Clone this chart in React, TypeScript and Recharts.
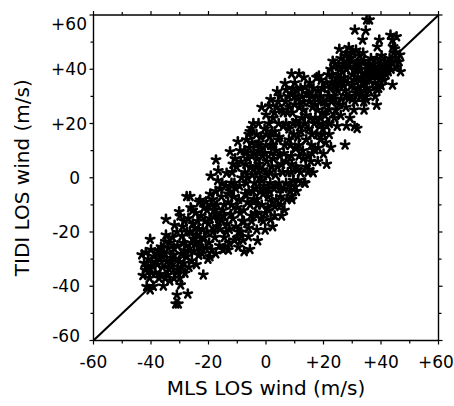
import { Scatter, ScatterChart, XAxis, YAxis } from "recharts";

// MLS vs TIDI line-of-sight wind (m/s) as [mls, tidi]
const tailSW: [number, number][] = [
  [-43.2, -28.4], [-42.4, -31.5], [-42, -34], [-41.5, -40.1], [-40.3, -41.3], [-40.5, -37],
  [-40.3, -22.7], [-41, -30], [-39.5, -32.5], [-39, -29], [-38.5, -35], [-40, -26.5],
  [-38.2, -31], [-42.8, -36], [-39.2, -40], [-41.8, -27.5],
  [-37.5, -27], [-37, -30], [-36.5, -25.5], [-36, -33], [-35.7, -39.9], [-35.1, -37],
  [-34.8, -15.3], [-34.8, -21.1], [-35.5, -28], [-34.5, -31], [-34, -26], [-33.5, -24],
  [-33.2, -29.5], [-36.8, -35.5], [-35, -23.5], [-33.8, -33.5], [-37.8, -32], [-34.2, -35.8],
  [-31.4, -46.5], [-30.5, -46.5], [-31, -43.2], [-29.7, -39.5], [-30.2, -12.5], [-29.9, -14.1],
  [-32.5, -22], [-32, -26], [-31.5, -30], [-31, -20], [-30.5, -34], [-30, -37],
  [-29.5, -28], [-29, -18], [-28.8, -24], [-28.5, -31.5], [-28.2, -35.2], [-32.8, -33],
  [-30.8, -25], [-29.2, -21.5], [-31.8, -17.5], [-28.4, -16], [-30, -31], [-32.2, -28.5],
  [-28.5, -27], [-29.5, -33], [-31, -35], [-32, -37], [-33, -31], [-36, -29],
  [-38, -28], [-39.8, -35], [-41.2, -33], [-37.2, -37], [-33.5, -38],
];

const lowerBand: [number, number][] = [
  [-27.6, -6.9], [-26.4, -6.9], [-27.2, -42.8], [-27, -15], [-26.5, -20], [-26, -24],
  [-25.5, -17], [-25, -27], [-24.5, -13], [-24, -21], [-23.5, -25.5], [-23.2, -9],
  [-27.5, -29], [-26.8, -33], [-25.8, -30.5], [-24.8, -18.5], [-23.8, -16], [-27.8, -25],
  [-26.2, -11], [-25.2, -22.5], [-23.4, -28.5], [-24.2, -32],
  [-22.9, -8.2], [-20.9, -8.8], [-21.8, -35.8], [-19.5, -29.1], [-19.2, 0.7], [-22.5, -14],
  [-22, -19], [-21.5, -22], [-21, -26], [-20.5, -12], [-20, -17], [-19.8, -24],
  [-19, -10], [-18.5, -20], [-18.2, -14.5], [-22.2, -28], [-20.2, -30], [-21.2, -16],
  [-19.4, -6], [-18.8, -26.5], [-22.8, -23.5], [-18.4, -8],
  [-17.4, 6.6], [-16.6, 2.6], [-13.7, 1.7], [-14.2, -26], [-13.1, -26.6], [-17.5, -5],
  [-17, -10], [-16.5, -15], [-16, -19], [-15.5, -7], [-15, -12], [-14.5, -22],
  [-14, -3], [-13.5, -17], [-13.2, -9], [-17.8, -22], [-16.2, -25], [-15.2, -2],
  [-14.8, -14], [-13.8, -20], [-17.2, -13], [-16.8, -1],
  [-13, -6], [-14.5, -10], [-15.5, -16], [-16, -4], [-17, -18], [-18, -12],
  [-19.5, -15], [-20.5, -20], [-21.5, -11], [-22.5, -26], [-23.5, -19], [-24.5, -24],
  [-25.5, -12], [-26.5, -27], [-27.5, -20], [-15, -26.5], [-17.5, -28],
];

const core: [number, number][] = [
  [-12.5, 9.6], [-9.8, 13.3], [-10, -22.3], [-9.6, -25.6], [-12.5, -5], [-12, -10],
  [-11.5, -15], [-11, -2], [-10.5, -18], [-10.2, 4], [-9.5, -8], [-9, -13],
  [-8.5, 0], [-8.2, -16], [-12.8, -19], [-11.8, 2], [-11.2, -7], [-10.8, 7],
  [-9.2, -3], [-8.6, -20], [-12.2, -13.5], [-8.8, 6], [-10, -11],
  [-7.6, -27.2], [-5.6, -26.4], [-6.1, -18.6], [-6.1, -21.7], [-5, 18.2], [-5.6, 17],
  [-7.5, 10], [-7, 5], [-6.5, 0], [-6, -5], [-5.5, -10], [-5, 8],
  [-4.5, 3], [-4, -2], [-3.5, 12], [-3.2, -8], [-7.8, -12], [-7.2, -6],
  [-6.8, 14], [-6.2, 7], [-5.2, -14], [-4.8, 1], [-4.2, 9], [-3.8, -13],
  [-3.4, 4], [-7.4, 2], [-6.4, -9], [-5.8, 11], [-4.6, -5], [-3.3, 16],
  [-3.2, -19.2], [-2.9, -23.2], [-3.2, -13.7], [-7.7, -16], [-4.4, 20],
  [-1.5, 26], [0, 23.2], [1.2, 26.5], [1.6, 28.9], [-0.3, -19.2], [1.6, -15.5],
  [2.3, -18], [-2.8, 10], [-2.5, 5], [-2.2, 0], [-2, -5], [-1.8, 15],
  [-1.5, -10], [-1.2, 8], [-1, 3], [-0.8, -3], [-0.5, 18], [-0.2, -13],
  [0, 12], [0.3, 6], [0.5, 1], [0.8, -7], [1, 20], [1.3, 15],
  [1.5, -2], [1.8, 9], [2, 4], [-2.6, 20], [-1.6, -15], [0.6, -11],
  [-2.4, 13], [1.2, -5],
  [-6.8, -2], [-5.4, 4], [-4.2, -8], [-3, 7], [-2, 11], [-1, -6],
  [0.2, 16], [1.4, 2], [2.2, -9], [-7.2, 9], [-6, 16], [-4.8, 13],
  [-3.6, -4], [-2.6, 2], [-1.4, -1], [-0.4, 9], [0.6, -4], [1.6, 12],
  [-9, 10], [-10.5, -4], [-11.5, 5], [-12, -2], [-5, -16], [-3, -10],
  [-1, -16], [1, -12], [-9.5, -20], [-11, -23], [-12.8, -24], [-8, -23],
];

const upperBand: [number, number][] = [
  [3.9, 31.8], [6.6, 34.8], [7, 32.4], [5.4, -14.1], [3.1, -10.6], [2.5, 22],
  [3, 17], [3.5, 10], [4, 4], [4.5, -2], [5, -7], [5.5, 25],
  [6, 19], [6.5, 12], [7, 6], [2.8, -4], [3.3, 1], [3.8, 26],
  [4.2, 14], [4.8, 8], [5.2, -10], [5.8, 2], [6.2, -4], [6.8, 28],
  [2.4, 12], [6.4, -12], [4.4, 20], [3.6, -8],
  [8.9, 38.3], [11.5, 38.3], [9.5, 33], [9.8, 29.9], [8.9, -6.9], [10.1, -3.3],
  [7.5, 24], [8, 18], [8.5, 12], [9, 5], [9.5, -1], [10, 27],
  [10.5, 21], [11, 15], [11.5, 8], [12, 2], [7.8, 30], [8.2, -3],
  [8.8, 8], [9.2, 24], [10.2, 11], [10.8, 32], [11.2, -1], [11.8, 19],
  [7.6, 2], [9.6, 16], [10.4, 4], [11.6, 26], [8.4, -5],
  [13.2, 37], [13.6, 33.4], [13.6, -2], [13.3, -1.8], [16.4, 1.9], [17, 10.3],
  [12.5, 30], [13, 25], [13.5, 20], [14, 14], [14.5, 8], [15, 28],
  [15.5, 22], [16, 16], [16.5, 33], [12.8, 10], [13.8, 4], [14.2, 31],
  [14.8, 18], [15.2, 35], [15.8, 12], [16.2, 26], [16.8, 20], [12.2, 17],
  [14.6, 2], [15.6, 6],
  [17.6, 37], [18.4, 37.5], [20, 8.8], [21.1, 5], [22.6, 11.2], [21.1, 19.1],
  [17.5, 30], [18, 25], [18.5, 20], [19, 14], [19.5, 33], [20, 28],
  [20.5, 23], [21, 35], [21.5, 30], [22, 25], [17.8, 16], [18.8, 28],
  [19.2, 36], [19.8, 18], [20.8, 13], [21.6, 38], [22, 20], [17.2, 22],
  [18.2, 11], [19.6, 24],
  [2, 17], [3, 24], [4.2, 28], [5, 30], [6, 24], [7, 20],
  [8.2, 26], [9, 31], [10, 35], [11, 29], [12, 33], [13, 28],
  [14, 23], [15, 31], [16, 30], [17, 27], [18, 32], [19, 30],
  [20, 33], [21, 27], [22, 30], [2.6, 7], [3.4, -3], [4.6, 15],
  [5.4, 5], [6.2, 9], [7.2, -8], [8, 14], [8.8, 2], [9.4, 20],
  [10.6, -5], [11.4, 12], [12.4, 22], [3, -14], [5, -4], [7, -2],
  [9, -8], [11, 3], [13, 7], [15, 3], [16, 9], [18, 6],
  [19, 22], [20, 16], [22, 16],
];

const tailNE: [number, number][] = [
  [25.5, 47.4], [27.5, 12.1], [22.5, 40], [23, 35], [23.5, 30], [24, 42],
  [24.5, 37], [25, 32], [25.5, 27], [26, 44], [26.5, 39], [27, 34],
  [22.8, 28], [23.8, 22], [24.8, 19], [25.8, 35], [26.2, 29], [22.2, 33],
  [26.8, 41], [24.2, 25], [23.2, 43], [27.2, 37], [25.2, 41], [24.6, 33],
  [30.8, 18.9], [31.7, 18.2], [28, 19.1], [30.9, 54.5], [31.3, 47.1], [27.5, 45],
  [28, 40], [28.5, 35], [29, 30], [29.5, 44], [30, 38], [30.5, 33],
  [31, 28], [31.5, 42], [32, 37], [27.8, 26], [28.8, 48], [29.2, 22],
  [30.2, 46], [30.6, 25], [31.2, 40], [28.2, 43], [29.8, 34], [31.8, 31], [27.4, 32],
  [35, 58.2], [36, 58.2], [34.7, 54.2], [33.6, 50.8], [34.1, 25], [34.7, 29.9],
  [35, 28.7], [32.5, 45], [33, 40], [33.5, 35], [34, 43], [34.5, 38],
  [35, 33], [35.5, 41], [36, 36], [36.5, 44], [32.8, 30], [33.8, 46],
  [34.2, 32], [35.2, 38], [36.2, 40], [32.2, 42], [33.2, 37], [36.8, 38],
  [39.4, 50.8], [38.7, 48.3], [38.5, 32.6], [38.5, 26.8], [42.5, 39.1], [40.8, 37.3],
  [37.5, 42], [38, 38], [38.5, 44], [39, 40], [39.5, 36], [40, 42],
  [40.5, 39], [41, 41], [41.5, 43], [37.8, 35], [39.2, 33], [40.2, 45], [41.8, 38],
  [43.3, 52.6], [45.4, 52], [44, 50.8], [44.2, 48.3], [46.6, 45.3], [46.3, 42.8],
  [46.8, 39.1], [44, 34.2], [42.5, 42], [43, 44], [43.5, 40], [44.5, 46],
  [45, 43], [45.5, 41], [44.8, 47.5], [43.8, 42.5],
  [23, 38], [24, 34], [25, 38], [26, 36], [27, 42], [28, 46],
  [29, 41], [30, 43], [31, 36], [32, 40], [33, 43], [34, 35],
  [35, 36], [36, 42], [37, 40], [38, 41], [39, 38], [40, 40],
  [41, 36], [42, 40], [24, 29], [26, 23], [28, 30], [30, 29],
  [32, 33], [34, 28], [36, 32], [38, 30], [40, 34],
];

const diagonal = [-60, 60];
const axisTicks = [-60, -50, -40, -30, -20, -10, 0, 10, 20, 30, 40, 50, 60];

const points = [...tailSW, ...lowerBand, ...core, ...upperBand, ...tailNE].map(
  ([x, y]) => ({ x, y })
);
const lineData = diagonal.map((v) => ({ x: v, y: v }));

const FONT = "DejaVu Sans";
const fmt = (v: number) => (v > 0 ? `+${v}` : `${v}`);
const isMajor = (v: number) => v % 20 === 0;

const Asterisk = (props: any) => {
  const { cx, cy } = props;
  if (cx == null || cy == null) return <g />;
  const r = 4.4;
  const arms = [0, 1, 2, 3, 4].map((k) => {
    const a = ((-90 + k * 72) * Math.PI) / 180;
    return (
      <line
        key={k}
        x1={cx}
        y1={cy}
        x2={cx + r * Math.cos(a)}
        y2={cy + r * Math.sin(a)}
        stroke="#000"
        strokeWidth={2.6}
        strokeLinecap="round"
      />
    );
  });
  return <g>{arms}</g>;
};

const BottomTick = (props: any) => {
  const { x, y, payload } = props;
  const v = payload.value;
  const shift = v === 60 ? -2.5 : 0;
  return (
    <g>
      <line x1={x} y1={y} x2={x} y2={y + (isMajor(v) ? 4 : 3)} stroke="#000" strokeWidth={1.2} />
      {isMajor(v) && (
        <text x={x + shift} y={y + 27} textAnchor="middle" fontFamily={FONT} fontSize={17} fill="#000">
          {fmt(v)}
        </text>
      )}
    </g>
  );
};

const LeftTick = (props: any) => {
  const { x, y, payload } = props;
  const v = payload.value;
  let dy = 6;
  if (v === 60) dy += 8.5;
  if (v === -60) dy -= 4.5;
  return (
    <g>
      <line x1={x - (isMajor(v) ? 4 : 3)} y1={y} x2={x} y2={y} stroke="#000" strokeWidth={1.2} />
      {isMajor(v) && (
        <text
          x={v > 0 ? x - 6.5 : x - 13.5}
          y={y + dy}
          textAnchor="end"
          fontFamily={FONT}
          fontSize={17}
          fill="#000"
        >
          {fmt(v)}
        </text>
      )}
    </g>
  );
};

const TopTick = (props: any) => {
  const { x, y, payload } = props;
  return (
    <line x1={x} y1={y} x2={x} y2={y - (isMajor(payload.value) ? 4 : 3)} stroke="#000" strokeWidth={1.2} />
  );
};

const RightTick = (props: any) => {
  const { x, y, payload } = props;
  return (
    <line x1={x} y1={y} x2={x + (isMajor(payload.value) ? 4 : 3)} y2={y} stroke="#000" strokeWidth={1.2} />
  );
};

const axisLine = { stroke: "#000", strokeWidth: 1.4 };

export default function App() {
  return (
    <div style={{ position: "absolute", left: 0, top: 0, background: "#fff" }}>
      <ScatterChart width={454} height={406} margin={{ top: 0, right: 0, bottom: 0, left: 0 }}>
        <XAxis
          xAxisId="bottom"
          dataKey="x"
          type="number"
          domain={[-60, 60]}
          ticks={axisTicks}
          interval={0}
          height={65.5}
          tickSize={0}
          tickMargin={0}
          tickLine={false}
          axisLine={axisLine}
          tick={BottomTick}
          allowDataOverflow
          label={{
            value: "MLS LOS wind (m/s)",
            position: "insideBottom",
            offset: 11,
            fontFamily: FONT,
            fontSize: 20,
            fill: "#000",
          }}
        />
        <XAxis
          xAxisId="top"
          orientation="top"
          dataKey="x"
          type="number"
          domain={[-60, 60]}
          ticks={axisTicks}
          interval={0}
          height={15}
          tickSize={0}
          tickMargin={0}
          tickLine={false}
          axisLine={axisLine}
          tick={TopTick}
          allowDataOverflow
        />
        <YAxis
          yAxisId="left"
          dataKey="y"
          type="number"
          domain={[-60, 60]}
          ticks={axisTicks}
          interval={0}
          width={93.5}
          tickSize={0}
          tickMargin={0}
          tickLine={false}
          axisLine={axisLine}
          tick={LeftTick}
          allowDataOverflow
          label={{
            value: "TIDI LOS wind (m/s)",
            angle: -90,
            position: "insideLeft",
            offset: 22,
            fontFamily: FONT,
            fontSize: 20,
            fill: "#000",
            style: { textAnchor: "middle" },
          }}
        />
        <YAxis
          yAxisId="right"
          orientation="right"
          dataKey="y"
          type="number"
          domain={[-60, 60]}
          ticks={axisTicks}
          interval={0}
          width={15.5}
          tickSize={0}
          tickMargin={0}
          tickLine={false}
          axisLine={axisLine}
          tick={RightTick}
          allowDataOverflow
        />
        <Scatter
          xAxisId="top"
          yAxisId="right"
          data={lineData}
          line={{ stroke: "#000", strokeWidth: 2 }}
          shape={() => <g />}
          isAnimationActive={false}
        />
        <Scatter
          xAxisId="bottom"
          yAxisId="left"
          data={points}
          shape={Asterisk}
          isAnimationActive={false}
        />
      </ScatterChart>
    </div>
  );
}
